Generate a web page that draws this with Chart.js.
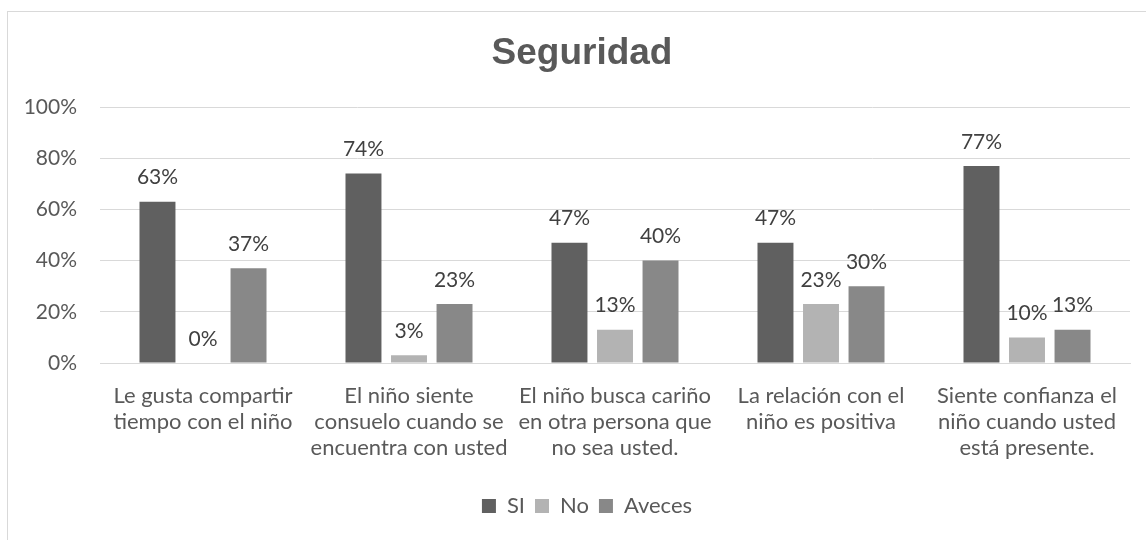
<!DOCTYPE html>
<html>
<head>
<meta charset="utf-8">
<script src="https://cdn.jsdelivr.net/npm/chart.js"></script>
<style>
    html, body { margin: 0; padding: 0; background: #fff; overflow: hidden; }
    #frame { position: absolute; left: 7px; top: 11px; width: 1200px; height: 600px; border: 1px solid #d9d9d9; }
    #wrap { position: absolute; left: 0; top: 0; width: 1146px; height: 540px; }
</style>
</head>
<body>
<div id="frame"></div>
<div id="wrap"><canvas id="chart"></canvas></div>
<script>
const categories = [
    ['Le gusta compartir', 'tiempo con el niño'],
    ['El niño siente', 'consuelo cuando se', 'encuentra con usted'],
    ['El niño busca cariño', 'en otra persona que', 'no sea usted.'],
    ['La relación con el', 'niño es positiva'],
    ['Siente confianza el', 'niño cuando usted', 'está presente.']
];
const siValues = [63, 74, 47, 47, 77];
const noValues = [0, 3, 13, 23, 10];
const avecesValues = [37, 23, 40, 30, 13];
const yTicks = [0, 20, 40, 60, 80, 100];

const textColor = '#595959';
const labelFont = 'Lato, "Open Sans", sans-serif';

// Draws the percentage above each bar (no datalabels plugin available offline)
const valueLabels = {
    id: 'valueLabels',
    afterDatasetsDraw(chart) {
        const ctx = chart.ctx;
        ctx.save();
        ctx.font = '21px ' + labelFont;
        ctx.fillStyle = '#404040';
        ctx.textAlign = 'center';
        ctx.textBaseline = 'middle';
        chart.data.datasets.forEach((ds, i) => {
            chart.getDatasetMeta(i).data.forEach((bar, j) => {
                ctx.fillText(ds.data[j] + '%', bar.x, bar.y - 24);
            });
        });
        ctx.restore();
    }
};

// Title and legend sit a little right of the canvas centre in the original
const nudgeBlocks = {
    id: 'nudgeBlocks',
    afterLayout(chart) {
        if (chart.titleBlock) { chart.titleBlock.left += 17; chart.titleBlock.right += 17; }
        if (chart.legend) { chart.legend.left += 22; chart.legend.right += 22; }
    }
};

function makeDataset(label, data, color) {
    return {
        label: label,
        data: data,
        backgroundColor: color,
        borderWidth: 0,
        categoryPercentage: 0.663,
        barPercentage: 0.79
    };
}

new Chart(document.getElementById('chart'), {
    type: 'bar',
    data: {
        labels: categories,
        datasets: [
            makeDataset('SI', siValues, '#606060'),
            makeDataset('No', noValues, '#b3b3b3'),
            makeDataset('Aveces', avecesValues, '#888888')
        ]
    },
    options: {
        responsive: true,
        maintainAspectRatio: false,
        animation: false,
        layout: { padding: { top: 18, left: 0, right: 16, bottom: 13 } },
        plugins: {
            title: {
                display: true,
                text: 'Seguridad',
                color: textColor,
                font: { family: '"Liberation Sans", Arial, sans-serif', size: 37, weight: 'bold', lineHeight: 1.2 },
                padding: { top: 14, bottom: 30.6 }
            },
            legend: {
                position: 'bottom',
                labels: {
                    color: textColor,
                    font: { family: labelFont, size: 22 },
                    boxWidth: 14,
                    boxHeight: 14,
                    padding: 10
                }
            },
            tooltip: { enabled: false }
        },
        scales: {
            x: {
                grid: { display: false, drawTicks: false },
                border: { color: '#d9d9d9' },
                ticks: {
                    color: textColor,
                    font: { family: labelFont, size: 22, lineHeight: 1.18 },
                    padding: 20,
                    maxRotation: 0,
                    autoSkip: false
                },
                afterFit(scale) { scale.height = 122; }
            },
            y: {
                min: 0,
                max: 100,
                afterBuildTicks(scale) { scale.ticks = yTicks.map(v => ({ value: v })); },
                grid: { color: '#d9d9d9', drawTicks: false },
                border: { display: false },
                ticks: {
                    color: textColor,
                    font: { family: labelFont, size: 21 },
                    padding: 23,
                    callback: v => v + '%'
                },
                afterFit(scale) { scale.width = 100; }
            }
        }
    },
    plugins: [valueLabels, nudgeBlocks]
});
</script>
</body>
</html>
